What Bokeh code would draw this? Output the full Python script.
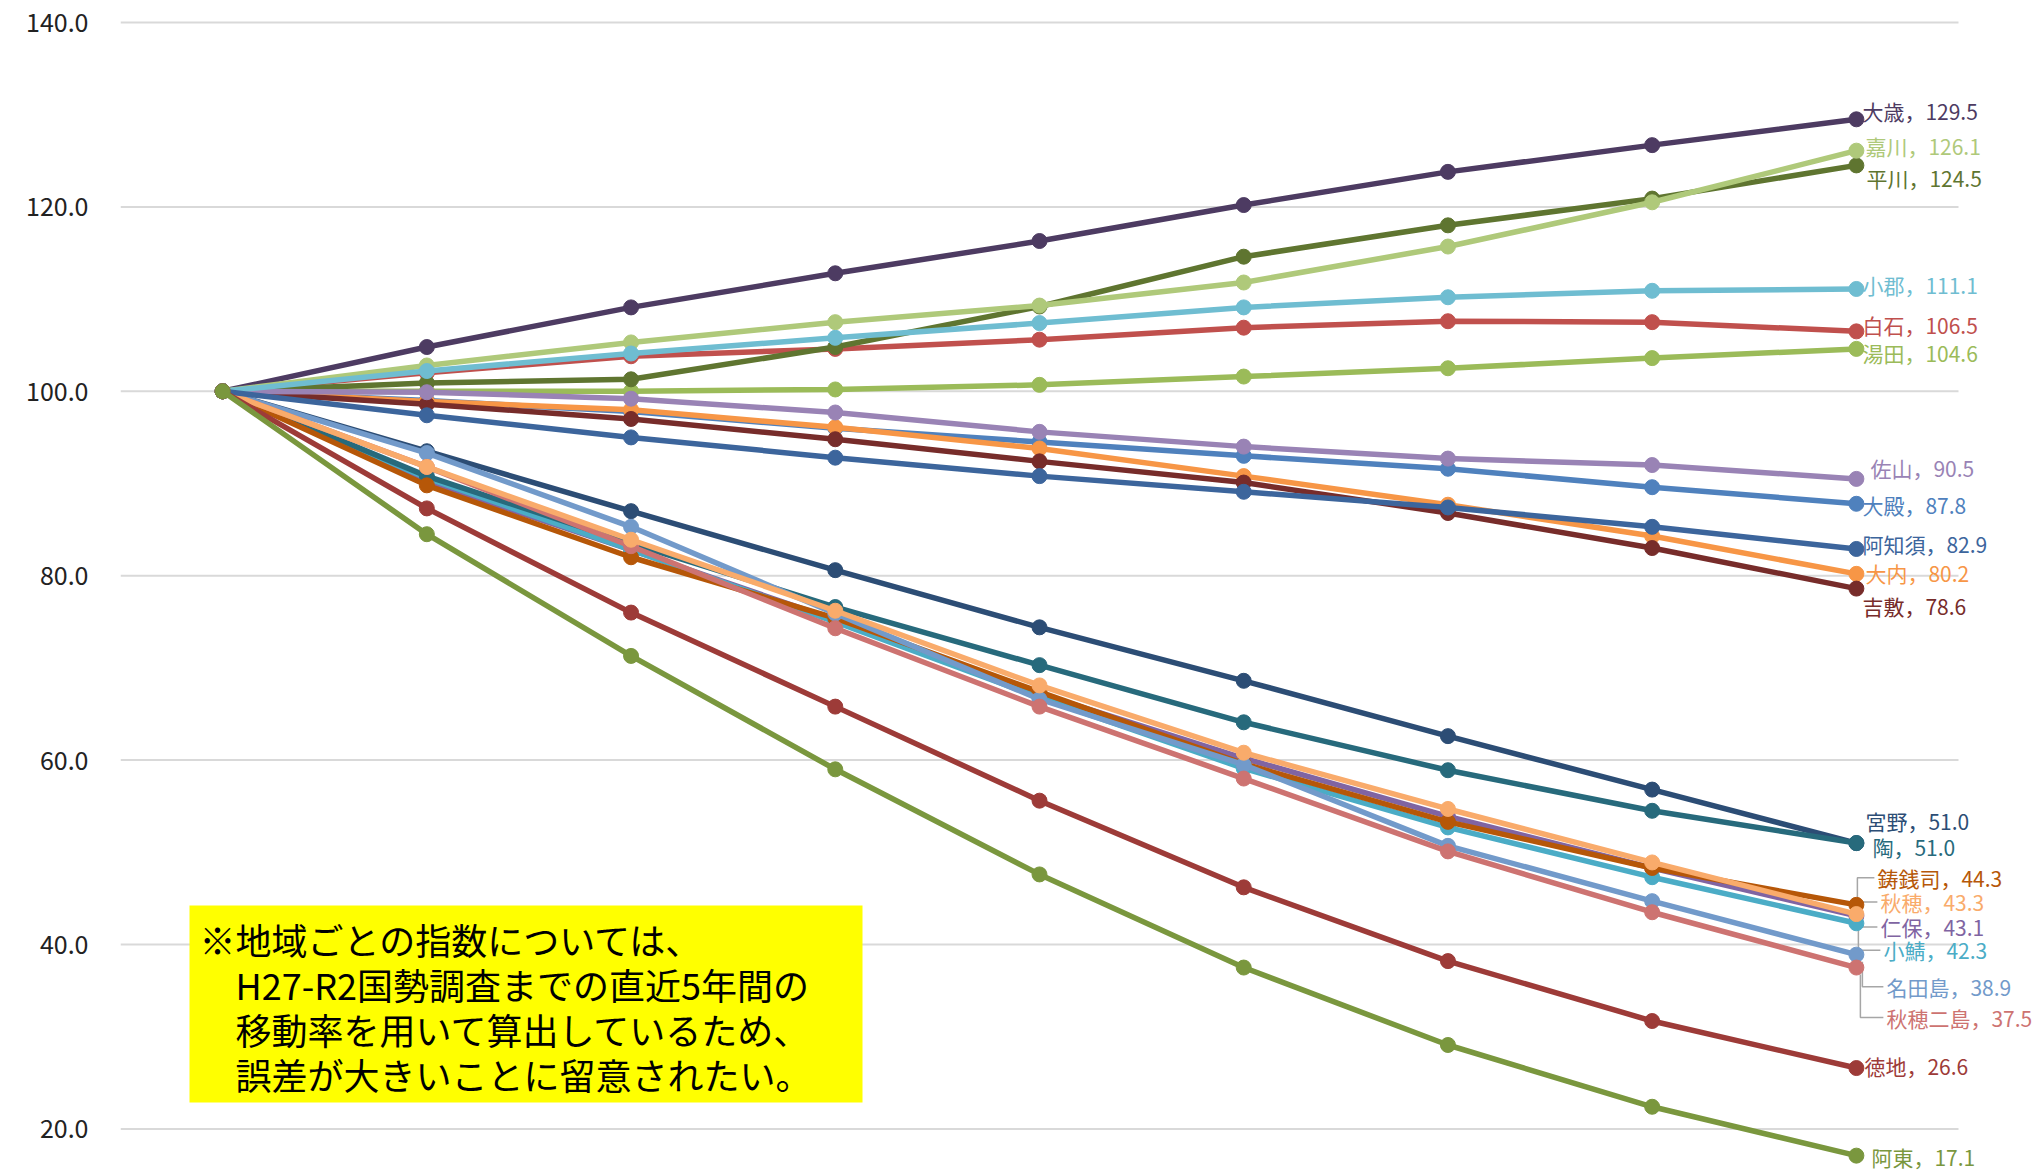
from bokeh.plotting import figure
from bokeh.models import Range1d, FixedTicker, NumeralTickFormatter
from bokeh.core.properties import value
from bokeh.embed import file_html
from bokeh.resources import INLINE

# ---------------- data ----------------
steps = list(range(9))
names = ["大殿", "白石", "湯田", "仁保", "小鯖", "大内", "宮野", "吉敷", "平川", "大歳", "陶",
         "鋳銭司", "名田島", "秋穂二島", "嘉川", "佐山", "小郡", "秋穂", "阿知須", "徳地", "阿東"]
ohdono = [100, 99.0, 97.8, 96.0, 94.5, 93.0, 91.6, 89.6, 87.8]
shiraishi = [100, 102.0, 103.8, 104.6, 105.6, 106.9, 107.6, 107.5, 106.5]
yuda = [100, 100.0, 100.0, 100.2, 100.7, 101.6, 102.5, 103.6, 104.6]
niho = [100, 90.2, 82.8, 75.2, 67.2, 60.2, 53.9, 48.3, 43.1]
osaba = [100, 90.6, 82.8, 75.0, 66.8, 59.1, 52.7, 47.3, 42.3]
ouchi = [100, 98.9, 98.0, 96.1, 93.8, 90.8, 87.7, 84.3, 80.2]
miyano = [100, 93.5, 87.0, 80.6, 74.4, 68.6, 62.6, 56.8, 51.0]
yoshiki = [100, 98.6, 97.0, 94.8, 92.4, 90.1, 86.8, 83.0, 78.6]
hirakawa = [100, 100.9, 101.3, 104.8, 109.2, 114.6, 118.0, 120.9, 124.5]
ohtoshi = [100, 104.8, 109.1, 112.8, 116.3, 120.2, 123.8, 126.7, 129.5]
sue = [100, 90.8, 83.5, 76.6, 70.3, 64.1, 58.9, 54.5, 51.0]
suzenji = [100, 89.8, 82.0, 75.4, 67.4, 59.6, 53.3, 48.3, 44.3]
natajima = [100, 93.3, 85.3, 75.9, 66.6, 59.5, 50.7, 44.7, 38.9]
futajima = [100, 91.8, 83.2, 74.3, 65.8, 58.0, 50.1, 43.5, 37.5]
kagawa = [100, 102.8, 105.3, 107.5, 109.3, 111.8, 115.7, 120.5, 126.1]
sayama = [100, 99.9, 99.2, 97.7, 95.6, 94.0, 92.7, 92.0, 90.5]
ogori = [100, 102.2, 104.1, 105.8, 107.4, 109.1, 110.2, 110.9, 111.1]
aio = [100, 91.8, 83.9, 76.2, 68.1, 60.8, 54.7, 48.9, 43.3]
ajisu = [100, 97.4, 95.0, 92.8, 90.8, 89.1, 87.4, 85.3, 82.9]
tokuji = [100, 87.3, 76.0, 65.8, 55.6, 46.2, 38.2, 31.7, 26.6]
ato = [100, 84.5, 71.3, 59.0, 47.6, 37.5, 29.1, 22.4, 17.1]
series = [ohdono, shiraishi, yuda, niho, osaba, ouchi, miyano, yoshiki, hirakawa, ohtoshi, sue,
          suzenji, natajima, futajima, kagawa, sayama, ogori, aio, ajisu, tokuji, ato]
y_ticks = [20, 40, 60, 80, 100, 120, 140]
note_lines = ["※地域ごとの指数については、",
              "H27-R2国勢調査までの直近5年間の",
              "移動率を用いて算出しているため、",
              "誤差が大きいことに留意されたい。"]

# ---------------- styles ----------------
colors = ["#4F81BD", "#C0504D", "#9BBB59", "#8064A2", "#4BACC6", "#F79646", "#2C4D75", "#772C2A",
          "#5F7530", "#4D3B62", "#276A7C", "#B65708", "#729ACA", "#CD7371", "#AFC97A", "#9983B5",
          "#6FBDD1", "#F9AB6B", "#3C659C", "#9D3B38", "#7A973E"]
# label offsets in pixels (dx right, dy down) relative to the last point
label_dx = [6, 6, 6, 24, 27, 9, 9, 6, 10, 6, 16, 21, 30, 30, 9, 14, 6, 24, 6, 8, 15]
label_dy = [1, -6, 4, 11, 27, -1, -22, 17, 13, -8, 4, -27, 32, 50, -5, -11, -4, -12, -5, -2, 1]
# leader line corner offsets (px) for labels that were moved away
leader_cx = {3: 4, 4: 2, 11: 1, 12: 6, 13: 4, 17: 4}

W, H = 2039, 1175
FRAME_L, GRID_R, FRAME_T = 120, 1958, 12
PX_PER_UNIT = 9.22
y_end = 140 + 10 / PX_PER_UNIT
y_start = y_end - (H - FRAME_T) / PX_PER_UNIT
x_start = -0.5
px_per_x = (GRID_R - FRAME_L) / 9.0
x_end = x_start + (W - FRAME_L) / px_per_x

def px2x(px):
    return x_start + (px - FRAME_L) / px_per_x

def px2y(py):
    return y_end - (py - FRAME_T) / PX_PER_UNIT

FONT = "Noto Sans CJK JP"

p = figure(width=W, height=H, output_backend="svg", toolbar_location=None,
           x_range=Range1d(x_start, x_end), y_range=Range1d(y_start, y_end),
           x_axis_location=None, min_border_left=FRAME_L, min_border_right=0,
           min_border_top=FRAME_T, min_border_bottom=0)
p.outline_line_color = None
p.background_fill_color = "white"
p.xgrid.visible = False
p.ygrid.visible = False
p.yaxis.ticker = FixedTicker(ticks=y_ticks)
p.yaxis.formatter = NumeralTickFormatter(format="0.0")
p.yaxis.axis_line_color = None
p.yaxis.major_tick_line_color = None
p.yaxis.minor_tick_line_color = None
p.yaxis.major_tick_out = 0
p.yaxis.major_label_standoff = 32
p.yaxis.major_label_text_font = FONT
p.yaxis.major_label_text_font_size = "25px"
p.yaxis.major_label_text_color = "#222222"

# horizontal gridlines (end at the plot area's right edge)
p.segment(x0=[x_start] * len(y_ticks), x1=[px2x(GRID_R)] * len(y_ticks), y0=y_ticks, y1=y_ticks,
          line_color="#D9D9D9", line_width=2)

# note box
bx0, bx1, by0, by1 = 189, 862, 905, 1102
p.quad(left=[px2x(bx0)], right=[px2x(bx1)], top=[px2y(by0)], bottom=[px2y(by1)],
       fill_color="#FFFF00", line_color=None)
note_x = [199, 235, 235, 235]
note_y = [938, 983, 1028, 1073]
p.text(x=[px2x(v) for v in note_x], y=[px2y(v) for v in note_y], text=note_lines,
       text_font=value(FONT), text_font_size="36px", text_color="#000000",
       text_baseline="middle", text_align="left")

# leader lines
last = steps[-1]
for i, cx in leader_cx.items():
    v = series[i][-1]
    ly = v - label_dy[i] / PX_PER_UNIT
    sign = 1 if label_dy[i] < 0 else -1
    xs = [last + (label_dx[i] - 3) / px_per_x, last + cx / px_per_x, last + cx / px_per_x]
    ys = [ly, ly, v + sign * 7 / PX_PER_UNIT]
    p.line(xs, ys, line_color="#A6A6A6", line_width=1.5)

# series
for i, (name, vals, c) in enumerate(zip(names, series, colors)):
    p.line(steps, vals, line_color=c, line_width=5.5)
    p.scatter(steps, vals, size=15, fill_color=c, line_color=c)

# end labels
lx = [last + dx / px_per_x for dx in label_dx]
ly = [s[-1] - dy / PX_PER_UNIT for s, dy in zip(series, label_dy)]
texts = [f"{n}，{s[-1]:.1f}" for n, s in zip(names, series)]
for x, y, t, c in zip(lx, ly, texts, colors):
    p.text(x=[x], y=[y], text=[t], text_font=value(FONT), text_font_size="21px",
           text_color=c, text_baseline="middle", text_align="left")

open("out.html", "w").write(file_html(p, INLINE))
